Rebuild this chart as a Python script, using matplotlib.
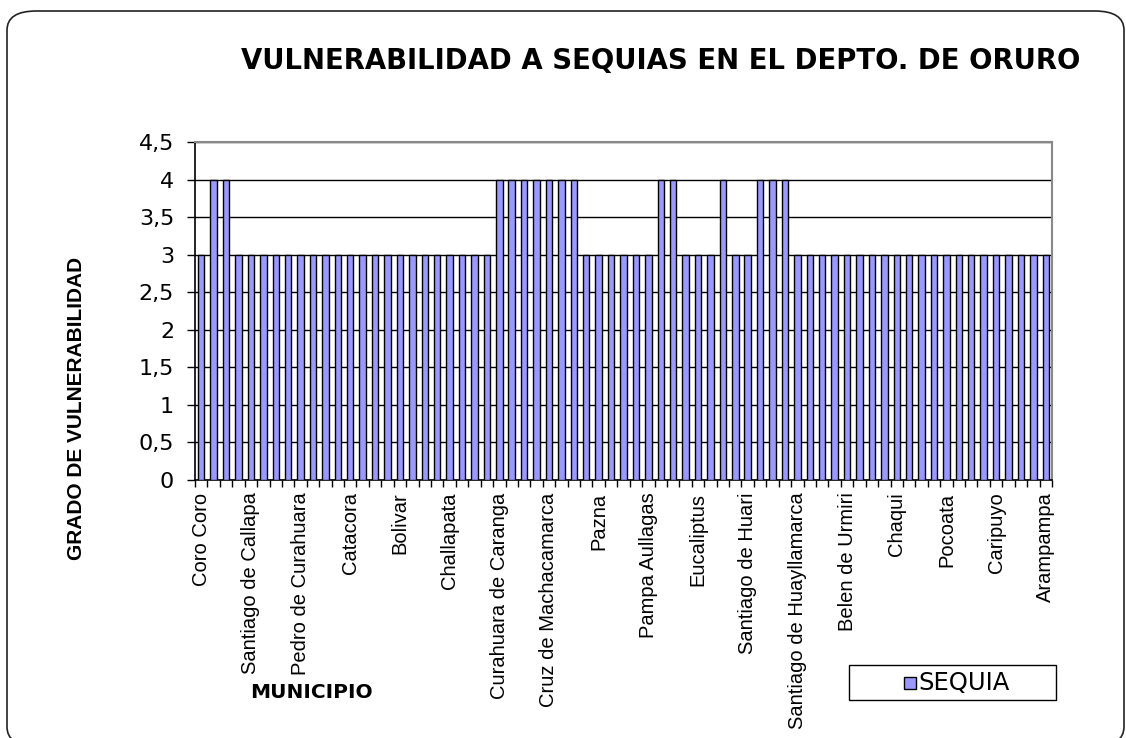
import numpy as np
import matplotlib.pyplot as plt
from matplotlib.patches import FancyBboxPatch, Rectangle

plt.rcParams['font.family'] = ['Liberation Sans', 'DejaVu Sans']

# every 4th municipio is labelled on the axis (Excel skips the rest)
etiquetas = ['Coro Coro', 'Santiago de Callapa', 'Pedro de Curahuara', 'Catacora',
             'Bolivar', 'Challapata', 'Curahuara de Caranga', 'Cruz de Machacamarca',
             'Pazna', 'Pampa Aullagas', 'Eucaliptus', 'Santiago de Huari',
             'Santiago de Huayllamarca', 'Belen de Urmiri', 'Chaqui', 'Pocoata',
             'Caripuyo', 'Arampampa']
sequia = [3, 4, 4, 3, 3, 3, 3, 3, 3, 3, 3, 3, 3, 3, 3, 3, 3, 3, 3, 3, 3, 3, 3, 3,
          4, 4, 4, 4, 4, 4, 4, 3, 3, 3, 3, 3, 3, 4, 4, 3, 3, 3, 4, 3, 3, 4, 4, 4,
          3, 3, 3, 3, 3, 3, 3, 3, 3, 3, 3, 3, 3, 3, 3, 3, 3, 3, 3, 3, 3]
yticks = [0, 0.5, 1, 1.5, 2, 2.5, 3, 3.5, 4, 4.5]
ylabels = ['0', '0,5', '1', '1,5', '2', '2,5', '3', '3,5', '4', '4,5']

W, H = 1126, 738
fig = plt.figure(figsize=(W / 100, H / 100), dpi=100)
# rounded frame round the whole slide
fig.patches.append(FancyBboxPatch((7 / W, -8 / H), 1117 / W, 735 / H,
                                  boxstyle='round,pad=0,rounding_size=0.026',
                                  transform=fig.transFigure, fill=False,
                                  edgecolor='#222222', linewidth=1.2))

ax = fig.add_axes([195 / W, 1 - 480 / H, 857 / W, 338 / H])
x = np.arange(len(sequia))
ax.bar(x, sequia, width=0.52, color='#9999ff', edgecolor='black', linewidth=1, zorder=3)
ax.set_xlim(-0.5, len(sequia) - 0.5)
ax.set_ylim(0, 4.5)

ax.set_yticks(yticks)
ax.set_yticklabels(ylabels, fontsize=16, family='DejaVu Sans')
ax.tick_params(axis='y', direction='out', length=6, width=1, pad=9)
ax.grid(axis='y', color='black', linewidth=1, zorder=0)

ax.set_xticks(x[::4])
ax.set_xticklabels(etiquetas, rotation=90, fontsize=14.5, va='top')
ax.tick_params(axis='x', which='major', length=0, pad=9)
ax.set_xticks(np.arange(-0.5, len(sequia), 1), minor=True)
ax.tick_params(axis='x', which='minor', direction='out', length=5, width=1)

for s in ['top', 'right']:
    ax.spines[s].set_color('#888888')
    ax.spines[s].set_linewidth(1.5)
ax.spines['left'].set_linewidth(1.2)
ax.spines['bottom'].set_linewidth(1.2)

fig.text(661 / W, 1 - 61 / H, 'VULNERABILIDAD A SEQUIAS EN EL DEPTO. DE ORURO',
         ha='center', va='center', fontsize=19.8, fontweight='bold', family='DejaVu Sans')
fig.text(77 / W, 1 - 408 / H, 'GRADO DE VULNERABILIDAD', rotation=90,
         ha='center', va='center', fontsize=15, fontweight='bold')
fig.text(250 / W, 1 - 692 / H, 'MUNICIPIO', ha='left', va='center',
         fontsize=14.5, fontweight='bold', family='DejaVu Sans')

# legend box drawn like the Excel one
fig.patches.append(Rectangle((849 / W, 1 - 700 / H), 207 / W, 35 / H,
                             transform=fig.transFigure, fill=False,
                             edgecolor='black', linewidth=1))
fig.patches.append(Rectangle((904 / W, 1 - 689 / H), 12 / W, 12 / H,
                             transform=fig.transFigure, facecolor='#9999ff',
                             edgecolor='black', linewidth=1))
fig.text(918 / W, 1 - 683 / H, 'SEQUIA', ha='left', va='center',
         fontsize=17.5, family='DejaVu Sans')

fig.savefig('out.png', dpi=100)
